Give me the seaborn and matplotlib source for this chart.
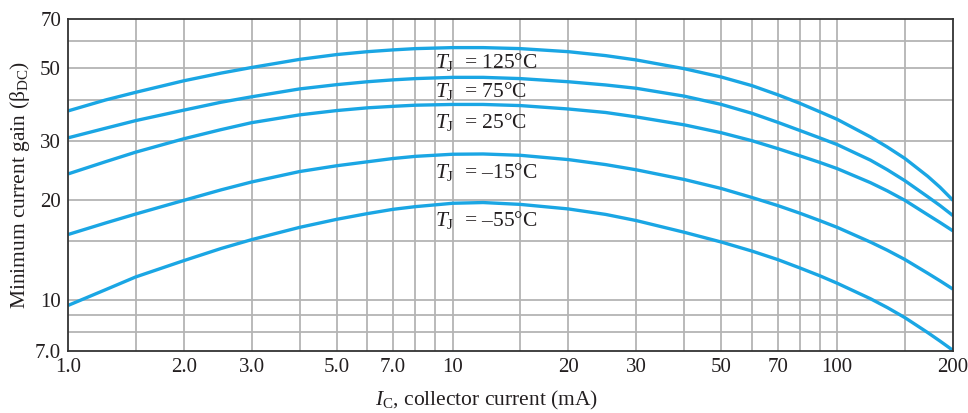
import numpy as np
import pandas as pd
import matplotlib
matplotlib.use("Agg")
import matplotlib.pyplot as plt
import seaborn as sns
from matplotlib.ticker import FixedLocator, NullLocator, FixedFormatter

# ---- data ----
ic_ma = [1.0, 1.25, 1.5, 2.0, 2.5, 3.0, 4.0, 5.0, 6.0, 7.0, 8.0, 10, 12, 15, 20, 25, 30,
         40, 50, 60, 70, 80, 90, 100, 122, 135, 150, 172, 185, 200]
gain_125 = [37.0, 39.9, 42.1, 45.6, 48.1, 50.0, 52.9, 54.7, 55.8, 56.5, 57.0, 57.4, 57.4, 57.0,
            55.8, 54.3, 52.7, 49.6, 46.8, 44.1, 41.4, 39.0, 36.8, 34.9, 30.9, 28.8, 26.6, 23.5, 21.8, 19.9]
gain_75 = [30.7, 32.8, 34.6, 37.2, 39.3, 40.8, 43.1, 44.4, 45.3, 45.9, 46.3, 46.7, 46.7, 46.3,
           45.3, 44.3, 43.3, 41.0, 38.7, 36.4, 34.2, 32.3, 30.7, 29.3, 26.3, 24.6, 22.8, 20.4, 19.2, 17.9]
gain_25 = [23.9, 26.0, 27.8, 30.5, 32.5, 34.1, 36.0, 37.1, 37.8, 38.2, 38.5, 38.7, 38.7, 38.4,
           37.5, 36.6, 35.5, 33.6, 31.8, 30.1, 28.5, 27.1, 25.9, 24.8, 22.5, 21.25, 19.9, 18.0, 17.07, 16.1]
gain_m15 = [15.7, 17.0, 18.1, 19.9, 21.4, 22.6, 24.3, 25.3, 26.0, 26.6, 27.0, 27.4, 27.45, 27.2,
            26.4, 25.5, 24.6, 23.0, 21.6, 20.3, 19.2, 18.2, 17.3, 16.5, 14.9, 14.08, 13.2, 12.0, 11.39, 10.75]
gain_m55 = [9.6, 10.7, 11.7, 13.1, 14.25, 15.15, 16.5, 17.45, 18.15, 18.7, 19.05, 19.5, 19.6, 19.35,
            18.75, 18.05, 17.3, 15.95, 14.9, 14.0, 13.2, 12.45, 11.8, 11.2, 10.06, 9.46, 8.82, 7.95, 7.5, 7.03]

series_names = ["125", "75", "25", "-15", "-55"]
series_values = [gain_125, gain_75, gain_25, gain_m15, gain_m55]
label_texts = ["= 125°C", "= 75°C", "= 25°C", "= \u201315°C", "= \u201355°C"]
label_y = [52.0, 42.6, 34.2, 24.2, 17.4]
label_x = 9.0

x_ticks = [1.0, 2.0, 3.0, 5.0, 7.0, 10, 20, 30, 50, 70, 100, 200]
x_ticklabels = ["1.0", "2.0", "3.0", "5.0", "7.0", "10", "20", "30", "50", "70", "100", "200"]
x_grid = [1.5, 2, 3, 4, 5, 6, 7, 8, 9, 10, 15, 20, 30, 40, 50, 60, 70, 80, 90, 100, 150]
y_ticks = [7.0, 10, 20, 30, 50, 70]
y_ticklabels = ["7.0", "10", "20", "30", "50", "70"]
y_grid = [8, 9, 10, 15, 20, 30, 40, 50, 60]

# ---- style ----
sns.set_theme(style="white")
plt.rcParams["font.family"] = ["Liberation Serif", "DejaVu Serif"]
plt.rcParams["mathtext.fontset"] = "custom"
plt.rcParams["mathtext.rm"] = "Liberation Serif"
plt.rcParams["mathtext.it"] = "Liberation Serif:italic"

TEXT = "#231f20"
BLUE = "#1aa6e4"
GRID = "#b4b4b4"

df = pd.concat(
    [pd.DataFrame({"ic": ic_ma, "gain": v, "tj": n}) for n, v in zip(series_names, series_values)],
    ignore_index=True,
)

fig = plt.figure(figsize=(9.68, 4.13), dpi=100)
ax = fig.add_axes([68 / 968, 1 - 351 / 413, (953 - 68) / 968, (351 - 19) / 413])

ax.set_xscale("log")
ax.set_yscale("log")
ax.set_xlim(1.0, 200)
ax.set_ylim(7.0, 70)

for g in x_grid:
    ax.axvline(g, color=GRID, lw=1.3, zorder=1)
for g in y_grid:
    ax.axhline(g, color=GRID, lw=1.3, zorder=1)

sns.lineplot(data=df, x="ic", y="gain", hue="tj", palette=[BLUE] * 5,
             estimator=None, sort=False, lw=2.4, legend=False, ax=ax, zorder=3)
for ln in ax.get_lines():
    ln.set_solid_joinstyle("round")
    ln.set_solid_capstyle("butt")

for t, yv in zip(label_texts, label_y):
    ax.text(label_x, yv, r"$T_\mathrm{J}$  " + t, fontsize=15.5, color=TEXT,
            va="center", ha="left", zorder=4)

ax.xaxis.set_major_locator(FixedLocator(x_ticks))
ax.xaxis.set_major_formatter(FixedFormatter(x_ticklabels))
ax.xaxis.set_minor_locator(NullLocator())
ax.yaxis.set_major_locator(FixedLocator(y_ticks))
ax.yaxis.set_major_formatter(FixedFormatter(y_ticklabels))
ax.yaxis.set_minor_locator(NullLocator())
ax.tick_params(axis="both", length=0, labelsize=15, colors=TEXT)
ax.tick_params(axis="x", pad=5)
ax.tick_params(axis="y", pad=5)

for s in ax.spines.values():
    s.set_color("#333333")
    s.set_linewidth(1.3)
    s.set_zorder(5)

ax.set_xlabel(r"$I_\mathrm{C}$, collector current (mA)", fontsize=15.5, color=TEXT)
ax.xaxis.set_label_coords((487 - 68) / 885, -(400 - 351) / 332, transform=ax.transAxes)
ax.xaxis.label.set_va("center")
ax.set_ylabel(r"Minimum current gain (β$_\mathrm{DC}$)", fontsize=15.5, color=TEXT)
ax.yaxis.set_label_coords(-(68 - 20) / 885, 0.5, transform=ax.transAxes)
ax.yaxis.label.set_va("center")

fig.savefig("out.png", dpi=100, facecolor="white")
